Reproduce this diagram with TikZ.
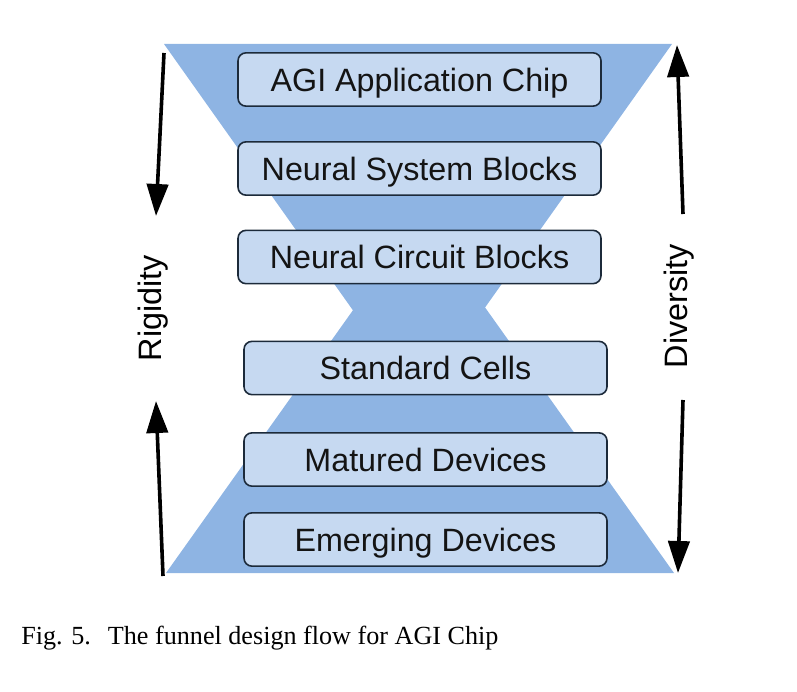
\documentclass[tikz,border=0pt]{standalone}
\usepackage{fontspec}
\setmainfont{Liberation Serif}
\newfontfamily\arialf{Liberation Sans}
\usetikzlibrary{arrows.meta}
\definecolor{funnelblue}{HTML}{8EB4E3}
\definecolor{boxfill}{HTML}{C6D9F1}
\definecolor{boxline}{HTML}{1C2A3A}
\begin{document}
\begin{tikzpicture}[x=0.75pt,y=-0.75pt,
  stagebox/.style={draw=boxline, fill=boxfill, line width=1.2pt, rounded corners=6pt,
    minimum width=272.25pt, minimum height=40pt, inner sep=0pt, outer sep=0pt,
    text height=17.5pt, text depth=0pt,
    font=\arialf\fontsize{24.2pt}{28pt}\selectfont, text=black!92},
  sidelabel/.style={font=\arialf\fontsize{24.3pt}{28pt}\selectfont, rotate=90, inner sep=0pt},
  bigarrow/.style={line width=2.7pt, -{Triangle[width=16pt,length=24pt]}}]
\useasboundingbox (0,0) rectangle (797,692);
% hourglass
\fill[funnelblue] (164,44) -- (672,44) -- (418,402) -- cycle;
\fill[funnelblue] (166,573) -- (674,573) -- (420,216) -- cycle;
% boxes
\node[stagebox] (agi) at (419.5,79.5) {AGI Application Chip};
\node[stagebox] (nsb) at (419.5,168.5) {Neural System Blocks};
\node[stagebox] (ncb) at (419.5,257) {Neural Circuit Blocks};
\node[stagebox] (sc) at (425.5,368) {Standard Cells};
\node[stagebox] (md) at (425.5,459.5) {Matured Devices};
\node[stagebox] (ed) at (425.5,539.5) {Emerging Devices};
% side labels
\node[sidelabel] (rig) at (153,308) {Rigidity};
\node[sidelabel] (div) at (679,306) {Diversity};
% arrow end points
\coordinate (la1) at (164,53);
\coordinate (la2) at (156,216);
\coordinate (lb1) at (163,576);
\coordinate (lb2) at (156,401);
\coordinate (ra1) at (683,214);
\coordinate (ra2) at (677,45);
\coordinate (rb1) at (683,400);
\coordinate (rb2) at (678,573);
\draw[bigarrow] (la1) -- (la2);
\draw[bigarrow] (lb1) -- (lb2);
\draw[bigarrow] (ra1) -- (ra2);
\draw[bigarrow] (rb1) -- (rb2);
% caption
\node[anchor=base west, inner sep=0pt, font=\fontsize{19.6pt}{23pt}\selectfont] (cap) at (21,644) {Fig. 5.\hspace{0.65em}The funnel design flow for AGI Chip};
\end{tikzpicture}
\end{document}
